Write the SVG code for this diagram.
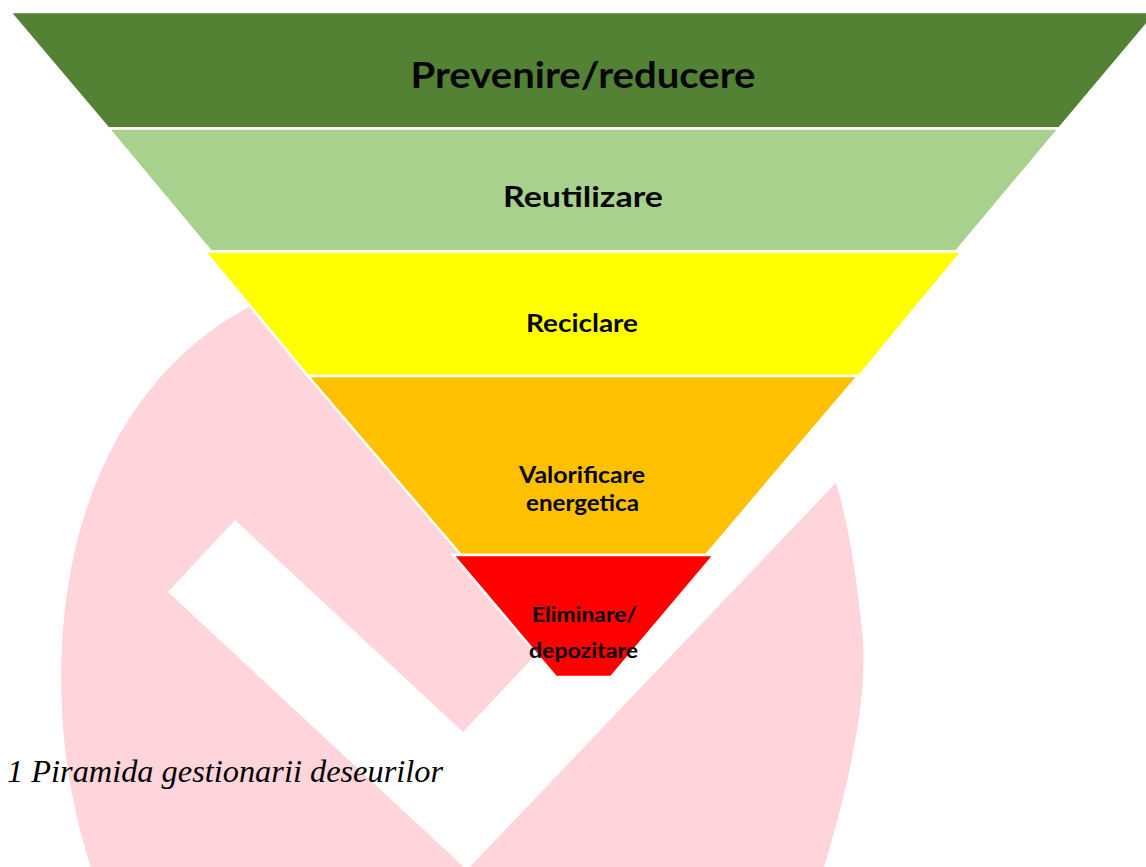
<svg xmlns="http://www.w3.org/2000/svg" width="1146" height="867" viewBox="0 0 1146 867">
  <style>
    .band { stroke: #FFFFFF; stroke-width: 2.5; stroke-linejoin: miter; }
    .lbl { font-family: Lato, "Open Sans", "Liberation Sans", sans-serif; font-weight: bold; fill: #050505; text-anchor: middle; }
    .cap { font-family: "Liberation Serif", "Times New Roman", serif; font-style: italic; fill: #000000; }
  </style>
  <rect x="0" y="0" width="1146" height="867" fill="#FFFFFF"/>

  <g id="watermark">
    <path d="M247,308 C150,360 75,470 63,630 C55,740 75,820 95,880 L820,880 C845,800 870,700 862,630 C855,560 845,510 835,480 L700,260 Q462,200 247,308 Z" fill="#FFD5DB"/>
    <path d="M235,520 L463,732 L918,250 L1010,300 L467,870 L168,592 Z" fill="#FFFFFF"/>
  </g>

  <g id="band-prevenire">
    <polygon class="band" points="10,12 1157,12 1059,128.5 108.5,128.5" fill="#548235"/>
    <text class="lbl" x="583" y="88" font-size="36" textLength="345" lengthAdjust="spacingAndGlyphs">Prevenire/reducere</text>
  </g>

  <g id="band-reutilizare">
    <polygon class="band" points="108.5,128.5 1059,128.5 956,251.5 211,251.5" fill="#A9D18E"/>
    <text class="lbl" x="583" y="207" font-size="28" textLength="160" lengthAdjust="spacingAndGlyphs">Reutilizare</text>
  </g>

  <g id="band-reciclare">
    <polygon class="band" points="205,251.5 962,251.5 859,376 308,376" fill="#FFFF00"/>
    <text class="lbl" x="582" y="332" font-size="25" textLength="112" lengthAdjust="spacingAndGlyphs">Reciclare</text>
  </g>

  <g id="band-valorificare">
    <polygon class="band" points="308,376 858,376 706,555 461,555" fill="#FFC000"/>
    <text class="lbl" x="582" y="483" font-size="22" textLength="126" lengthAdjust="spacingAndGlyphs">Valorificare</text>
    <text class="lbl" x="582.5" y="511" font-size="22" textLength="113" lengthAdjust="spacingAndGlyphs">energetica</text>
  </g>

  <g id="band-eliminare">
    <polygon class="band" points="453,555 714,555 611,677 556,677" fill="#FF0000"/>
    <text class="lbl" x="584.5" y="622" font-size="20" textLength="105" lengthAdjust="spacingAndGlyphs">Eliminare/</text>
    <text class="lbl" x="583.5" y="658" font-size="20" textLength="109" lengthAdjust="spacingAndGlyphs">depozitare</text>
  </g>

  <g id="connectors"></g>

  <g id="caption">
    <text class="cap" x="7" y="782" font-size="31.5" textLength="436" lengthAdjust="spacingAndGlyphs">1 Piramida gestionarii deseurilor</text>
  </g>
</svg>
